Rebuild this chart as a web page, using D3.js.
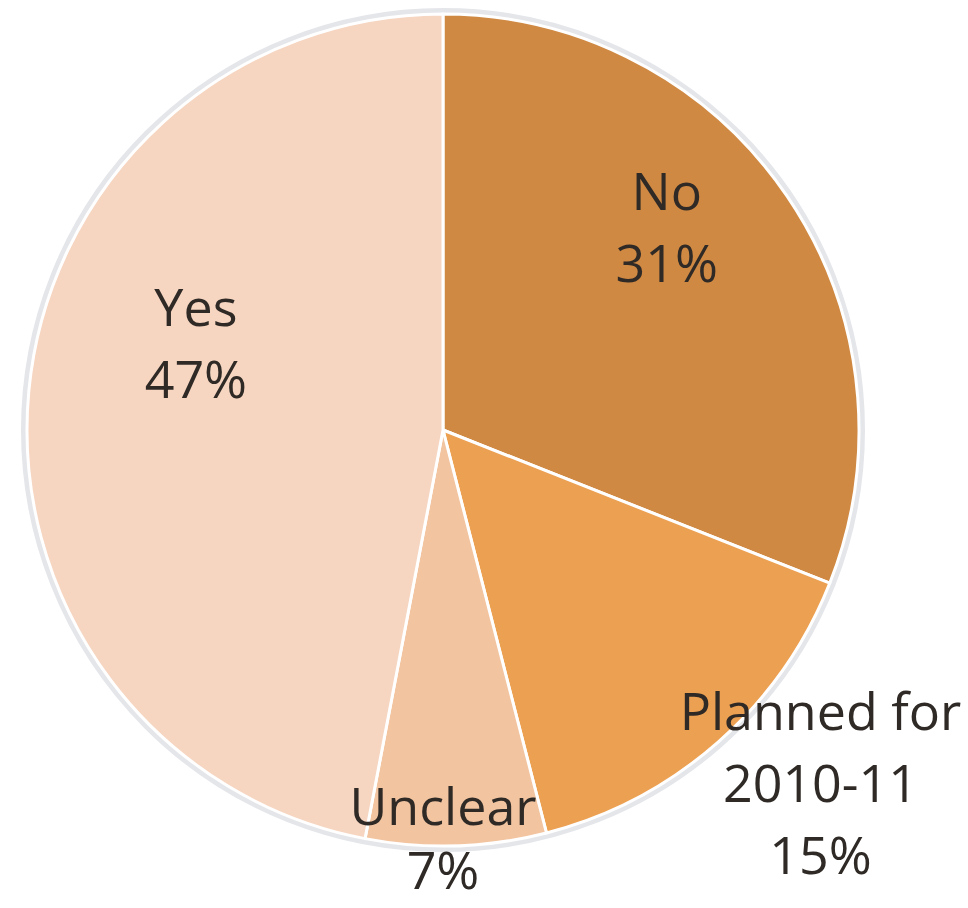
<!DOCTYPE html>
<html>
<head>
<meta charset="utf-8">
<script src="https://cdn.jsdelivr.net/npm/d3@7"></script>
<style>
  body { margin: 0; background: #fff; }
  svg { display: block; }
</style>
</head>
<body>
<div id="chart"></div>
<script>
// slice data, clockwise from 12 o'clock
var categories = ["No", "Planned for 2010-11", "Unclear", "Yes"]
var labelLines = [["No"], ["Planned for", "2010-11"], ["Unclear"], ["Yes"]]
var values = [31, 15, 7, 47]
var colors = ["#D08943", "#ECA052", "#F2C4A0", "#F6D5C1"]

var svgSize = { width: 968, height: 908 }
var center = { x: 443, y: 430 }
var radius = 416

// where each label sits: angle shift from slice middle (deg) and distance from centre
var labelPlace = [
    { shift: -8, r: 302 },
    { shift: -5.5, r: 517 },
    { shift: 1.8, r: 408, gap: 64 },
    { shift: 14, r: 262 }
]

var svg = d3.select("#chart").append("svg")
    .attr("width", svgSize.width)
    .attr("height", svgSize.height)

var frame = svg.append("g")
    .attr("transform", `translate(${center.x}, ${center.y})`)

var pie = d3.pie().sort(null).value(d => d)
var arcs = pie(values)

var arc = d3.arc().innerRadius(0).outerRadius(radius)

// soft grey rim round the pie
frame.append("circle")
    .attr("r", radius + 3)
    .attr("fill", "none")
    .attr("stroke", "#e4e6ea")
    .attr("stroke-width", 6)

frame.selectAll("path.slice").data(arcs)
    .enter().append("path")
    .attr("class", "slice")
    .attr("d", arc)
    .attr("fill", (d, i) => colors[i])
    .attr("stroke", "#fff")
    .attr("stroke-width", 3)
    .attr("stroke-linejoin", "round")

var fontSize = 52

arcs.forEach((d, i) => {
    var mid = (d.startAngle + d.endAngle) / 2 + labelPlace[i].shift * Math.PI / 180
    var r = labelPlace[i].r
    var lineGap = labelPlace[i].gap || 72
    var x = Math.sin(mid) * r
    var y = -Math.cos(mid) * r
    var lines = labelLines[i].concat([d.data + "%"])
    var top = y - (lines.length - 1) * lineGap / 2
    var t = frame.append("text")
        .attr("text-anchor", "middle")
        .attr("font-family", "'Open Sans', Lato, sans-serif")
        .attr("font-size", fontSize)
        .attr("fill", "#2f2a26")
    lines.forEach((ln, j) => {
        t.append("tspan")
            .attr("x", x)
            .attr("y", top + j * lineGap)
            .attr("dy", "0.36em")
            .text(ln)
    })
})
</script>
</body>
</html>
